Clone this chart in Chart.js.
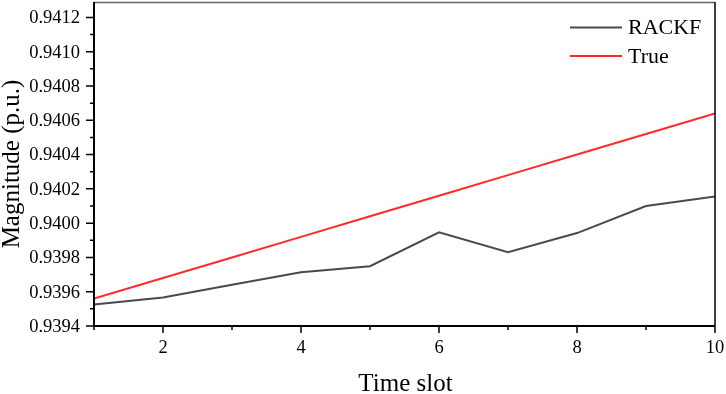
<!DOCTYPE html>
<html>
<head>
<meta charset="utf-8">
<script src="https://cdn.jsdelivr.net/npm/chart.js@4.4.1/dist/chart.umd.min.js"></script>
<style>
  body { margin: 0; background: #fff; }
  canvas { display: block; }
</style>
</head>
<body>
<canvas id="grafico" width="726" height="394"></canvas>
<script>
// datos
const timeSlots = [1, 2, 3, 4, 5, 6, 7, 8, 9, 10];
const rackf = [0.939525, 0.939566, 0.939640, 0.939714, 0.939749, 0.939946, 0.939830, 0.939942, 0.940100, 0.940155];
const verdadero = [0.93956, 0.93968, 0.93980, 0.93992, 0.94004, 0.94016, 0.94028, 0.94040, 0.94052, 0.94064];
const xTicks = [2, 4, 6, 8, 10];
const xMinor = [1, 3, 5, 7, 9];
const yTicks = [0.9394, 0.9396, 0.9398, 0.9400, 0.9402, 0.9404, 0.9406, 0.9408, 0.9410, 0.9412];
const yMinor = [0.9395, 0.9397, 0.9399, 0.9401, 0.9403, 0.9405, 0.9407, 0.9409, 0.9411];

const fuente = '"Liberation Serif", "Times New Roman", serif';

const ejes = {
  id: 'ejes',
  afterDraw(chart) {
    const ctx = chart.ctx;
    const a = chart.chartArea;
    const sx = chart.scales.x;
    const sy = chart.scales.y;
    ctx.save();

    // marco superior y derecho
    ctx.strokeStyle = '#666';
    ctx.lineWidth = 1.5;
    ctx.beginPath();
    ctx.moveTo(a.left, a.top + 0.5);
    ctx.lineTo(a.right, a.top + 0.5);
    ctx.stroke();
    ctx.strokeStyle = '#000';
    ctx.beginPath();
    ctx.moveTo(a.right, a.top);
    ctx.lineTo(a.right, a.bottom);
    ctx.stroke();

    // ejes izquierdo e inferior
    ctx.lineWidth = 2;
    ctx.beginPath();
    ctx.moveTo(a.left, a.top);
    ctx.lineTo(a.left, a.bottom);
    ctx.lineTo(a.right, a.bottom);
    ctx.stroke();

    // marcas
    ctx.lineWidth = 1.5;
    ctx.beginPath();
    xTicks.forEach(v => {
      const px = sx.getPixelForValue(v);
      ctx.moveTo(px, a.bottom);
      ctx.lineTo(px, a.bottom + 7);
    });
    xMinor.forEach(v => {
      const px = sx.getPixelForValue(v);
      ctx.moveTo(px, a.bottom);
      ctx.lineTo(px, a.bottom + 4);
    });
    yTicks.forEach(v => {
      const py = sy.getPixelForValue(v);
      ctx.moveTo(a.left, py);
      ctx.lineTo(a.left - 8, py);
    });
    yMinor.forEach(v => {
      const py = sy.getPixelForValue(v);
      ctx.moveTo(a.left, py);
      ctx.lineTo(a.left - 4, py);
    });
    ctx.stroke();

    // etiquetas
    ctx.fillStyle = '#000';
    ctx.font = '18.5px ' + fuente;
    ctx.textBaseline = 'middle';
    ctx.textAlign = 'right';
    yTicks.forEach(v => {
      ctx.fillText(v.toFixed(4), a.left - 14, sy.getPixelForValue(v) + 1);
    });
    ctx.textAlign = 'center';
    ctx.textBaseline = 'top';
    xTicks.forEach(v => {
      ctx.fillText(String(v), sx.getPixelForValue(v), a.bottom + 13);
    });

    // titulos
    ctx.font = '25px ' + fuente;
    ctx.textBaseline = 'alphabetic';
    ctx.fillText('Time slot', (a.left + a.right) / 2 + 1, 391);
    ctx.save();
    ctx.translate(19, (a.top + a.bottom) / 2);
    ctx.rotate(-Math.PI / 2);
    ctx.fillText('Magnitude (p.u.)', 0, 0);
    ctx.restore();

    // leyenda
    ctx.font = '22px ' + fuente;
    ctx.textAlign = 'left';
    ctx.textBaseline = 'middle';
    chart.data.datasets.forEach((ds, i) => {
      const y = 27.5 + i * 28.5;
      ctx.strokeStyle = ds.borderColor;
      ctx.lineWidth = 2;
      ctx.beginPath();
      ctx.moveTo(570, y);
      ctx.lineTo(622, y);
      ctx.stroke();
      ctx.fillStyle = '#000';
      ctx.fillText(ds.label, 628, y + 1);
    });
    ctx.restore();
  }
};

new Chart(document.getElementById('grafico'), {
  type: 'line',
  data: {
    labels: timeSlots,
    datasets: [
      {
        label: 'RACKF',
        data: timeSlots.map((t, i) => ({ x: t, y: rackf[i] })),
        borderColor: '#4a4a4a',
        borderWidth: 2,
        pointRadius: 0,
        tension: 0
      },
      {
        label: 'True',
        data: timeSlots.map((t, i) => ({ x: t, y: verdadero[i] })),
        borderColor: '#ff2a2a',
        borderWidth: 2,
        pointRadius: 0,
        tension: 0
      }
    ]
  },
  options: {
    responsive: false,
    animation: false,
    layout: { padding: { top: 2, right: 11, left: 0, bottom: 0 } },
    plugins: {
      legend: { display: false },
      tooltip: { enabled: false }
    },
    scales: {
      x: {
        type: 'linear',
        min: 1,
        max: 10,
        grid: { display: false },
        border: { display: false },
        ticks: { display: false },
        afterFit: scale => { scale.height = 68; }
      },
      y: {
        min: 0.9394,
        max: 0.94129,
        grid: { display: false },
        border: { display: false },
        ticks: { display: false },
        afterFit: scale => { scale.width = 94; }
      }
    }
  },
  plugins: [ejes]
});
</script>
</body>
</html>
